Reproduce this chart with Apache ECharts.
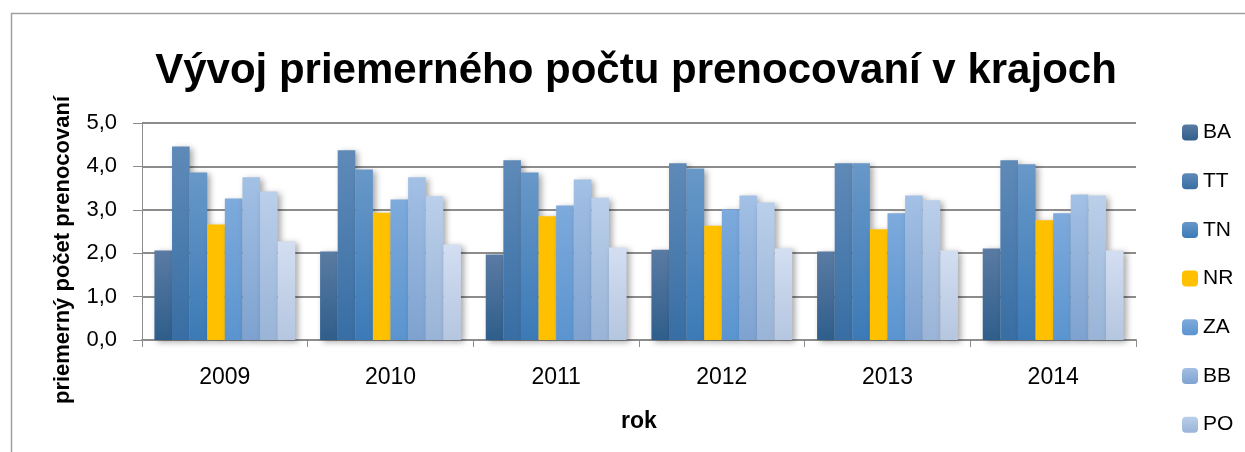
<!DOCTYPE html>
<html>
<head>
<meta charset="utf-8">
<script src="https://cdn.jsdelivr.net/npm/echarts@6/dist/echarts.min.js"></script>
<style>
  html, body { margin: 0; padding: 0; background: #fff; }
  #chart { width: 1245px; height: 452px; }
</style>
</head>
<body>
<div id="chart"></div>
<script>
// roky
let years = ['2009', '2010', '2011', '2012', '2013', '2014'];
// kraje (KE je v legende orezany)
let regions = ['BA', 'TT', 'TN', 'NR', 'ZA', 'BB', 'PO', 'KE'];
let legendRegions = ['BA', 'TT', 'TN', 'NR', 'ZA', 'BB', 'PO'];
let yTicks = [0, 1, 2, 3, 4, 5];

let BA = [2.06, 2.04, 1.97, 2.08, 2.04, 2.11];
let TT = [4.46, 4.37, 4.14, 4.07, 4.07, 4.14];
let TN = [3.86, 3.93, 3.86, 3.95, 4.07, 4.05];
let NR = [2.66, 2.93, 2.85, 2.63, 2.55, 2.76];
let ZA = [3.26, 3.24, 3.10, 3.01, 2.92, 2.92];
let BB = [3.75, 3.75, 3.70, 3.33, 3.33, 3.35];
let PO = [3.42, 3.31, 3.28, 3.17, 3.22, 3.33];
let KE = [2.27, 2.20, 2.13, 2.11, 2.06, 2.06];

let values = [BA, TT, TN, NR, ZA, BB, PO, KE];
// farby: [hore, dole]
let colors = [
	['#5a7ba3', '#2f5e8b'],
	['#5f8ab8', '#386ea4'],
	['#6898c8', '#3b7ab7'],
	['#ffc000', '#ffc000'],
	['#7eaadc', '#5a94cf'],
	['#a3c0e5', '#7ea2d0'],
	['#bacfea', '#99b4d7'],
	['#d3def1', '#b5c6e0']
];

let font = '"Liberation Sans", Arial, sans-serif';

let chart = echarts.init(document.getElementById('chart'));

let series = [];
for (let i = 0; i < regions.length; i++) {
	series.push({
		name: regions[i],
		type: 'bar',
		data: values[i],
		barGap: '0%',
		barCategoryGap: '15%',
		itemStyle: {
			color: new echarts.graphic.LinearGradient(0, 0, 0, 1, [
				{ offset: 0, color: colors[i][0] },
				{ offset: 1, color: colors[i][1] }
			]),
			shadowBlur: 6,
			shadowColor: 'rgba(0,0,0,0.35)',
			shadowOffsetX: 3,
			shadowOffsetY: 2
		}
	});
}

let option = {
	animation: false,
	backgroundColor: '#fff',
	title: {
		text: 'Vývoj priemerného počtu prenocovaní v krajoch',
		left: 631,
		textAlign: 'center',
		top: 45,
		textStyle: {
			fontFamily: font,
			fontWeight: 'bold',
			fontSize: 42,
			color: '#000'
		}
	},
	legend: {
		data: legendRegions,
		orient: 'vertical',
		left: 1177,
		top: 117,
		itemWidth: 16,
		itemHeight: 16,
		itemGap: 27.7,
		textStyle: {
			fontFamily: font,
			fontSize: 21,
			color: '#000',
			lineHeight: 21
		}
	},
	grid: {
		left: 142,
		right: 109,
		top: 123,
		bottom: 112
	},
	xAxis: {
		type: 'category',
		data: years,
		name: 'rok',
		nameLocation: 'middle',
		nameGap: 70,
		nameTextStyle: {
			fontFamily: font,
			fontWeight: 'bold',
			fontSize: 23,
			color: '#000'
		},
		axisLine: { lineStyle: { color: '#8c8c8c', width: 2 } },
		axisTick: { show: true, length: 7, lineStyle: { color: '#8c8c8c' } },
		axisLabel: {
			fontFamily: font,
			fontSize: 23,
			color: '#000',
			margin: 26
		}
	},
	yAxis: {
		type: 'value',
		min: yTicks[0],
		max: yTicks[yTicks.length - 1],
		interval: 1,
		axisLine: { show: true, lineStyle: { color: '#8c8c8c', width: 1 } },
		axisTick: { show: true, length: 9, lineStyle: { color: '#8c8c8c' } },
		splitLine: { lineStyle: { color: '#8c8c8c', width: 2 } },
		axisLabel: {
			fontFamily: font,
			fontSize: 22,
			color: '#000',
			margin: 25,
			formatter: function(v) {
				return v.toFixed(1).replace('.', ',');
			}
		}
	},
	graphic: [
		{
			type: 'rect',
			left: 9,
			top: 11,
			shape: { width: 1300, height: 500 },
			style: { fill: 'none', stroke: '#a0a0a0', lineWidth: 1.5 },
			silent: true
		},
		{
			type: 'text',
			x: 63,
			y: 250,
			rotation: Math.PI / 2,
			style: {
				text: 'priemerný počet prenocovaní',
				fontFamily: font,
				fontWeight: 'bold',
				fontSize: 22,
				fill: '#000',
				align: 'center',
				verticalAlign: 'middle'
			}
		}
	],
	series: series
};

chart.setOption(option);
</script>
</body>
</html>
